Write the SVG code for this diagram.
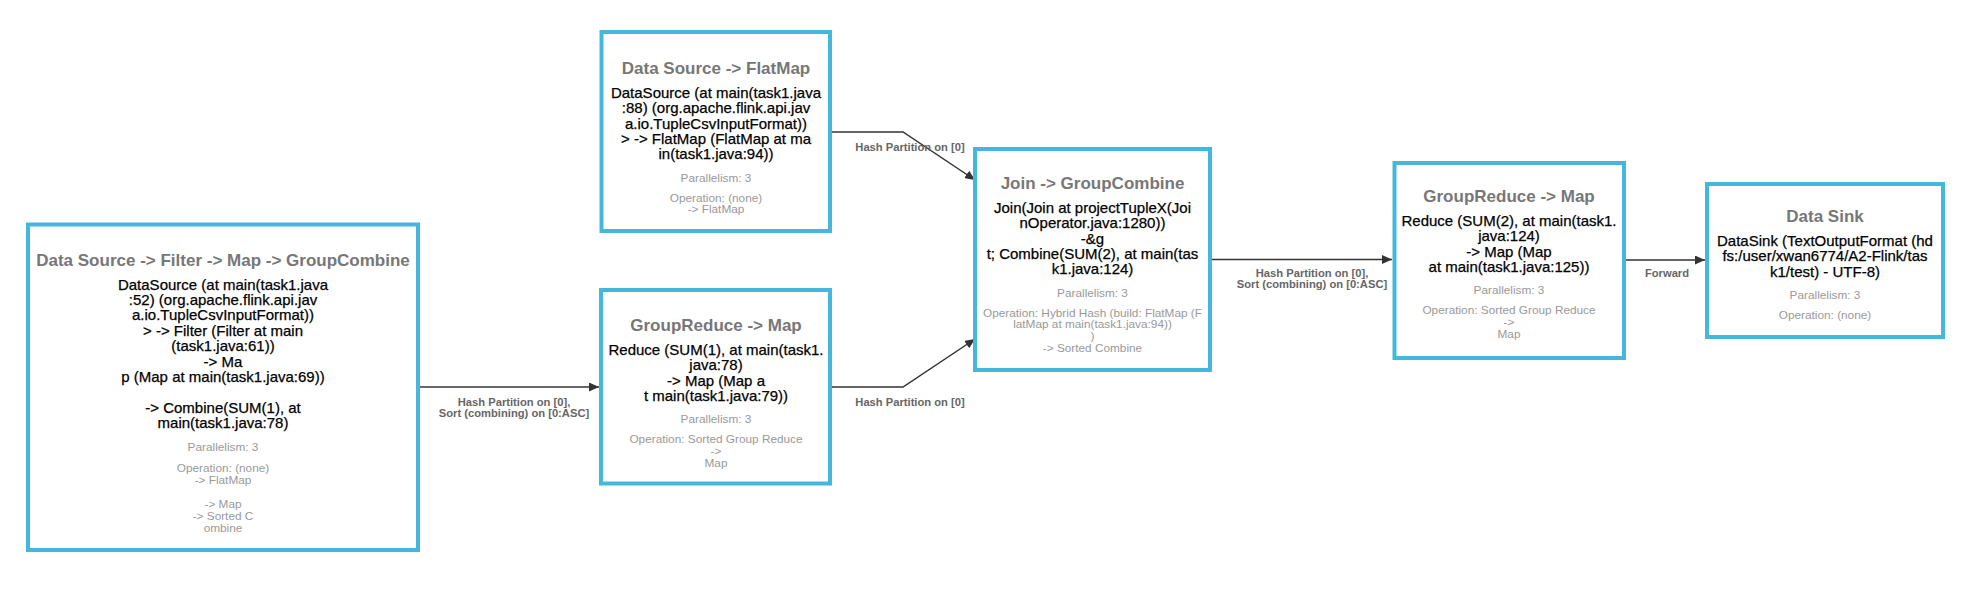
<svg xmlns="http://www.w3.org/2000/svg" width="1966" height="592" viewBox="0 0 1966 592">
<style>
.bg{fill:#fff}
.box{fill:#fff;stroke:#43b8dc;stroke-width:4}
text{font-family:"Liberation Sans",Arial,Helvetica,sans-serif;text-anchor:middle}
.title{font-size:17px;font-weight:bold;fill:#777}
.body{font-size:15px;fill:#000;stroke:#000;stroke-width:0.25}
.meta{font-size:11.8px;fill:#999}
.elab{font-size:11.2px;font-weight:bold;fill:#666}
.edge{fill:none;stroke:#333;stroke-width:1.5}
</style>
<defs>
<marker id="arr" markerWidth="11" markerHeight="9" refX="10" refY="4.5" orient="auto" markerUnits="userSpaceOnUse">
<path d="M0,0 L10,4.5 L0,9 z" fill="#333"/>
</marker>
</defs>
<rect class="bg" x="0" y="0" width="1966" height="592"/>

<g id="connectors">
<path class="edge" d="M420,387 L599,387" marker-end="url(#arr)"/>
<path class="edge" d="M832,132 L903,132 L975,180" marker-end="url(#arr)"/>
<path class="edge" d="M832,387 L903,387 L975,339" marker-end="url(#arr)"/>
<path class="edge" d="M1212,259.5 L1392,259.5" marker-end="url(#arr)"/>
<path class="edge" d="M1626,260 L1705,260" marker-end="url(#arr)"/>
<text class="elab" x="514" y="405.7">Hash Partition on [0],</text>
<text class="elab" x="514" y="416.7">Sort (combining) on [0:ASC]</text>
<text class="elab" x="910" y="150.7">Hash Partition on [0]</text>
<text class="elab" x="910" y="405.7">Hash Partition on [0]</text>
<text class="elab" x="1312" y="277.3">Hash Partition on [0],</text>
<text class="elab" x="1312" y="288.3">Sort (combining) on [0:ASC]</text>
<text class="elab" x="1667" y="277">Forward</text>
</g>

<g id="n1">
<rect class="box" x="28" y="224.5" width="390" height="325.5"/>
<text class="title" x="223" y="266">Data Source -&gt; Filter -&gt; Map -&gt; GroupCombine</text>
<text class="body" x="223" y="289.5">DataSource (at main(task1.java</text>
<text class="body" x="223" y="304.9">:52) (org.apache.flink.api.jav</text>
<text class="body" x="223" y="320.3">a.io.TupleCsvInputFormat))</text>
<text class="body" x="223" y="335.7">&gt; -&gt; Filter (Filter at main</text>
<text class="body" x="223" y="351.1">(task1.java:61))</text>
<text class="body" x="223" y="366.5">-&gt; Ma</text>
<text class="body" x="223" y="381.9">p (Map at main(task1.java:69))</text>
<text class="body" x="223" y="412.7">-&gt; Combine(SUM(1), at</text>
<text class="body" x="223" y="428.1">main(task1.java:78)</text>
<text class="meta" x="223" y="450.5">Parallelism: 3</text>
<text class="meta" x="223" y="471.5">Operation: (none)</text>
<text class="meta" x="223" y="483.5">-&gt; FlatMap</text>
<text class="meta" x="223" y="507.5">-&gt; Map</text>
<text class="meta" x="223" y="519.5">-&gt; Sorted C</text>
<text class="meta" x="223" y="531.5">ombine</text>
</g>

<g id="n2">
<rect class="box" x="601.5" y="32" width="228.5" height="199"/>
<text class="title" x="716" y="74">Data Source -&gt; FlatMap</text>
<text class="body" x="716" y="97.7">DataSource (at main(task1.java</text>
<text class="body" x="716" y="113.1">:88) (org.apache.flink.api.jav</text>
<text class="body" x="716" y="128.5">a.io.TupleCsvInputFormat))</text>
<text class="body" x="716" y="143.9">&gt; -&gt; FlatMap (FlatMap at ma</text>
<text class="body" x="716" y="159.3">in(task1.java:94))</text>
<text class="meta" x="716" y="181.7">Parallelism: 3</text>
<text class="meta" x="716" y="201.7">Operation: (none)</text>
<text class="meta" x="716" y="213.4">-&gt; FlatMap</text>
</g>

<g id="n3">
<rect class="box" x="601" y="290" width="229" height="193.5"/>
<text class="title" x="716" y="331">GroupReduce -&gt; Map</text>
<text class="body" x="716" y="354.7">Reduce (SUM(1), at main(task1.</text>
<text class="body" x="716" y="370.1">java:78)</text>
<text class="body" x="716" y="385.5">-&gt; Map (Map a</text>
<text class="body" x="716" y="400.9">t main(task1.java:79))</text>
<text class="meta" x="716" y="423.3">Parallelism: 3</text>
<text class="meta" x="716" y="443.3">Operation: Sorted Group Reduce</text>
<text class="meta" x="716" y="455">-&gt;</text>
<text class="meta" x="716" y="466.7">Map</text>
</g>

<g id="n4">
<rect class="box" x="975" y="149" width="235" height="221"/>
<text class="title" x="1092.5" y="189">Join -&gt; GroupCombine</text>
<text class="body" x="1092.5" y="212.7">Join(Join at projectTupleX(Joi</text>
<text class="body" x="1092.5" y="228.1">nOperator.java:1280))</text>
<text class="body" x="1092.5" y="243.5">-&amp;g</text>
<text class="body" x="1092.5" y="258.9">t; Combine(SUM(2), at main(tas</text>
<text class="body" x="1092.5" y="274.3">k1.java:124)</text>
<text class="meta" x="1092.5" y="296.7">Parallelism: 3</text>
<text class="meta" x="1092.5" y="316.7">Operation: Hybrid Hash (build: FlatMap (F</text>
<text class="meta" x="1092.5" y="328.4">latMap at main(task1.java:94))</text>
<text class="meta" x="1092.5" y="340.1">)</text>
<text class="meta" x="1092.5" y="351.8">-&gt; Sorted Combine</text>
</g>

<g id="n5">
<rect class="box" x="1394.5" y="163" width="229.5" height="195"/>
<text class="title" x="1509" y="202">GroupReduce -&gt; Map</text>
<text class="body" x="1509" y="225.7">Reduce (SUM(2), at main(task1.</text>
<text class="body" x="1509" y="241.1">java:124)</text>
<text class="body" x="1509" y="256.5">-&gt; Map (Map</text>
<text class="body" x="1509" y="271.9">at main(task1.java:125))</text>
<text class="meta" x="1509" y="294.3">Parallelism: 3</text>
<text class="meta" x="1509" y="314.3">Operation: Sorted Group Reduce</text>
<text class="meta" x="1509" y="326">-&gt;</text>
<text class="meta" x="1509" y="337.7">Map</text>
</g>

<g id="n6">
<rect class="box" x="1707" y="184" width="236" height="153"/>
<text class="title" x="1825" y="222">Data Sink</text>
<text class="body" x="1825" y="245.7">DataSink (TextOutputFormat (hd</text>
<text class="body" x="1825" y="261.1">fs:/user/xwan6774/A2-Flink/tas</text>
<text class="body" x="1825" y="276.5">k1/test) - UTF-8)</text>
<text class="meta" x="1825" y="298.9">Parallelism: 3</text>
<text class="meta" x="1825" y="318.9">Operation: (none)</text>
</g>
</svg>
